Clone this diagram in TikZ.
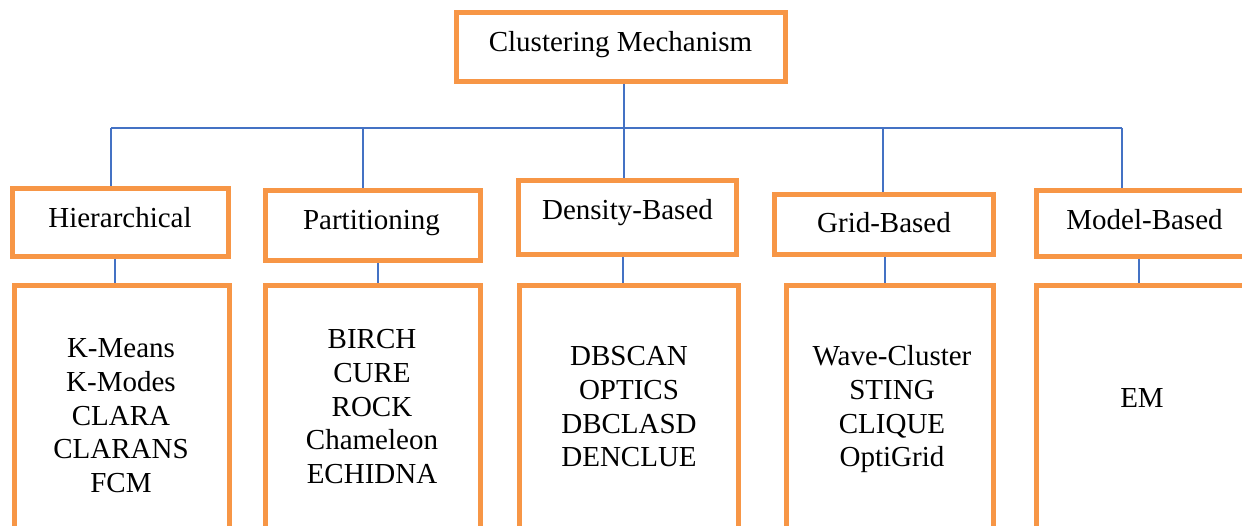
\documentclass[tikz,border=0pt]{standalone}
\usepackage{fontspec}
\setmainfont{Liberation Serif}
\definecolor{boxorange}{HTML}{F79646}
\definecolor{lineblue}{HTML}{4472C4}
\tikzset{
  obox/.style={draw=boxorange, line width=5pt, rectangle, inner sep=0pt},
  lbl/.style={anchor=base, inner sep=0pt, font=\fontsize{29}{33.6}\selectfont},
  conn/.style={draw=lineblue, line width=1.5pt}
}
\begin{document}
\begin{tikzpicture}[x=1pt,y=-1pt]
\useasboundingbox (0,0) rectangle (1242,526);
\clip (0,0) rectangle (1242,526);
% top box
\node[obox, minimum width=329pt, minimum height=69pt] (top) at (621,47) {};
\node[lbl] (topt) at (620.5,52) {Clustering Mechanism};
% level 2
\node[obox, minimum width=216pt, minimum height=68pt] (hier) at (120.5,222.5) {};
\node[obox, minimum width=215pt, minimum height=70pt] (part) at (373,225.5) {};
\node[obox, minimum width=218pt, minimum height=74pt] (dens) at (627.5,217.5) {};
\node[obox, minimum width=219pt, minimum height=60pt] (grid) at (884,224.5) {};
\node[obox, minimum width=230pt, minimum height=66pt] (model) at (1151.5,223.5) {};
\node[lbl] (hiert) at (120,228) {Hierarchical};
\node[lbl] (partt) at (371.5,230) {Partitioning};
\node[lbl] (denst) at (627.5,220) {Density-Based};
\node[lbl] (gridt) at (884,233) {Grid-Based};
\node[lbl] (modelt) at (1144.5,230) {Model-Based};
% level 3
\node[obox, minimum width=215pt, minimum height=314.5pt] (l1) at (122,442.75) {};
\node[obox, minimum width=215pt, minimum height=314.5pt] (l2) at (373,442.75) {};
\node[obox, minimum width=219pt, minimum height=314.5pt] (l3) at (629,442.75) {};
\node[obox, minimum width=207pt, minimum height=314.5pt] (l4) at (890,442.75) {};
\node[obox, minimum width=263.5pt, minimum height=314.5pt] (l5) at (1168.25,442.75) {};
\node[lbl] (l1t) at (121,358) {\begin{tabular}[t]{@{}c@{}}K-Means\\K-Modes\\CLARA\\CLARANS\\FCM\end{tabular}};
\node[lbl] (l2t) at (372,349) {\begin{tabular}[t]{@{}c@{}}BIRCH\\CURE\\ROCK\\Chameleon\\ECHIDNA\end{tabular}};
\node[lbl] (l3t) at (629,366) {\begin{tabular}[t]{@{}c@{}}DBSCAN\\OPTICS\\DBCLASD\\DENCLUE\end{tabular}};
\node[lbl] (l4t) at (892,366) {\begin{tabular}[t]{@{}c@{}}Wave-Cluster\\STING\\CLIQUE\\OptiGrid\end{tabular}};
\node[lbl] (l5t) at (1142,407) {EM};
% bus
\coordinate (bL) at (111,128);
\coordinate (bR) at (1122,128);
\coordinate (b1) at (111,128);
\coordinate (b2) at (363,128);
\coordinate (b3) at (624,128);
\coordinate (b4) at (883,128);
\coordinate (b5) at (1122,128);
\draw[conn] (top.south -| b3) -- (dens.north -| b3);
\draw[conn] (bL) -- (bR);
\draw[conn] (b1) -- (hier.north -| b1);
\draw[conn] (b2) -- (part.north -| b2);
\draw[conn] (b4) -- (grid.north -| b4);
\draw[conn] (b5) -- (model.north -| b5);
% level 2 to level 3
\draw[conn] (hier.south -| 115,0) -- (l1.north -| 115,0);
\draw[conn] (part.south -| 378,0) -- (l2.north -| 378,0);
\draw[conn] (dens.south -| 623,0) -- (l3.north -| 623,0);
\draw[conn] (grid.south -| 885,0) -- (l4.north -| 885,0);
\draw[conn] (model.south -| 1139,0) -- (l5.north -| 1139,0);
\end{tikzpicture}
\end{document}
